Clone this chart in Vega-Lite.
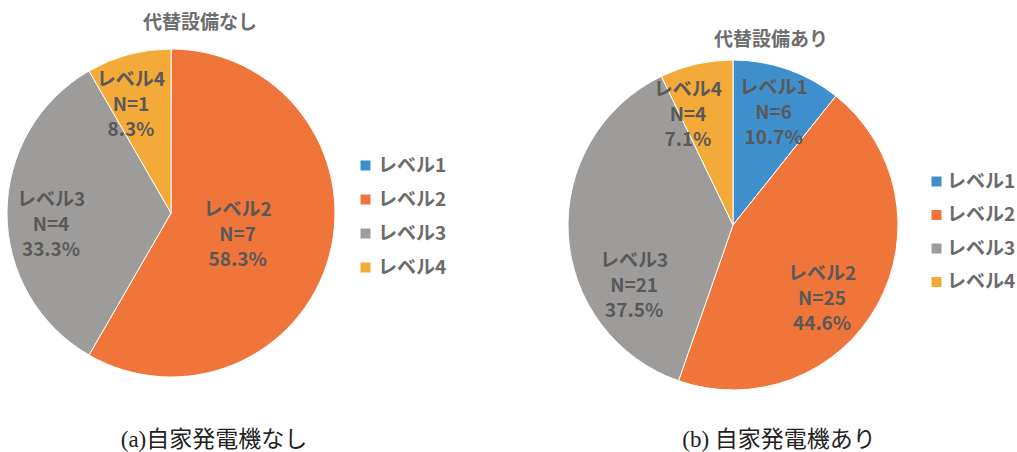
{
  "$schema": "https://vega.github.io/schema/vega-lite/v6.json",
  "width": 1017,
  "height": 452,
  "autosize": "none",
  "padding": 0,
  "background": "white",
  "config": {"view": {"stroke": null}},
  "datasets": {
    "without": [
      {"panel": "a", "level": "レベル1", "n": 0, "pct": "0.0%"},
      {"panel": "a", "level": "レベル2", "n": 7, "pct": "58.3%"},
      {"panel": "a", "level": "レベル3", "n": 4, "pct": "33.3%"},
      {"panel": "a", "level": "レベル4", "n": 1, "pct": "8.3%"}
    ],
    "with": [
      {"panel": "b", "level": "レベル1", "n": 6, "pct": "10.7%"},
      {"panel": "b", "level": "レベル2", "n": 25, "pct": "44.6%"},
      {"panel": "b", "level": "レベル3", "n": 21, "pct": "37.5%"},
      {"panel": "b", "level": "レベル4", "n": 4, "pct": "7.1%"}
    ],
    "headings": [
      {"panel": "a", "title": "代替設備なし", "caption": "(a)自家発電機なし"},
      {"panel": "b", "title": "代替設備あり", "caption": "(b) 自家発電機あり"}
    ]
  },
  "layer": [
    {
      "data": {"name": "without"},
      "encoding": {
        "x": {"field": "panel", "type": "nominal", "axis": null,
              "scale": {"type": "point", "padding": 0, "domain": ["a", "b"], "range": [171, 733]}},
        "y": {"field": "panel", "type": "nominal", "axis": null,
              "scale": {"type": "point", "padding": 0, "domain": ["a", "b"], "range": [213, 225]}}
      },
      "layer": [
        {
          "mark": {"type": "arc", "outerRadius": 164, "stroke": "white", "strokeWidth": 1},
          "encoding": {
            "theta": {"field": "n", "type": "quantitative", "stack": true},
            "order": {"field": "level", "sort": "ascending"},
            "color": {
              "field": "level", "type": "nominal",
              "scale": {"domain": ["レベル1", "レベル2", "レベル3", "レベル4"],
                        "range": ["#3f8fcd", "#f0753a", "#9e9c9a", "#f4aa38"]},
              "legend": {"orient": "none", "legendX": 356, "legendY": 156, "title": null,
                         "symbolType": "square", "symbolSize": 100, "symbolStrokeWidth": 0,
                         "labelFont": "Noto Sans CJK JP", "labelFontWeight": "bold",
                         "labelFontSize": 19, "labelColor": "#6b6b6b", "labelOffset": 3,
                         "rowPadding": 14, "padding": 0}
            }
          }
        },
        {
          "transform": [
            {"calculate": "datum.level + '\\nN=' + datum.n + '\\n' + datum.pct", "as": "label"}
          ],
          "mark": {"type": "text", "font": "Noto Sans CJK JP", "fontWeight": "bold", "fontSize": 19,
                   "lineBreak": "\n", "lineHeight": 25, "align": "center", "baseline": "middle",
                   "color": "#595959",
                   "radius": {"expr": "datum.level === 'レベル2' ? 69 : datum.level === 'レベル3' ? 120 : 116"},
                   "dx": {"expr": "datum.level === 'レベル4' ? -10 : 0"},
                   "dy": {"expr": "datum.level === 'レベル3' ? -13 : -21"}},
          "encoding": {
            "theta": {"field": "n", "type": "quantitative", "stack": true},
            "order": {"field": "level", "sort": "ascending"},
            "text": {"condition": {"test": "datum.n > 0", "field": "label"}, "value": ""}
          }
        },
        {
          "data": {"name": "headings"},
          "transform": [{"filter": "datum.panel === 'a'"}],
          "mark": {"type": "text", "font": "Noto Sans CJK JP", "fontWeight": "bold", "fontSize": 19,
                   "color": "#6d6d6d", "align": "center", "baseline": "middle", "dx": 29, "dy": -190},
          "encoding": {"text": {"field": "title"}}
        },
        {
          "data": {"name": "headings"},
          "transform": [{"filter": "datum.panel === 'a'"}],
          "mark": {"type": "text", "font": "Liberation Serif, Noto Sans CJK JP", "fontSize": 23,
                   "color": "#222222", "align": "center", "baseline": "middle", "dx": 43, "dy": 227},
          "encoding": {"text": {"field": "caption"}}
        }
      ]
    },
    {
      "data": {"name": "with"},
      "encoding": {
        "x": {"field": "panel", "type": "nominal", "axis": null,
              "scale": {"type": "point", "padding": 0, "domain": ["a", "b"], "range": [171, 733]}},
        "y": {"field": "panel", "type": "nominal", "axis": null,
              "scale": {"type": "point", "padding": 0, "domain": ["a", "b"], "range": [213, 225]}}
      },
      "layer": [
        {
          "mark": {"type": "arc", "outerRadius": 165, "stroke": "white", "strokeWidth": 1},
          "encoding": {
            "theta": {"field": "n", "type": "quantitative", "stack": true},
            "order": {"field": "level", "sort": "ascending"},
            "color": {
              "field": "level", "type": "nominal",
              "scale": {"domain": ["レベル1", "レベル2", "レベル3", "レベル4"],
                        "range": ["#3f8fcd", "#f0753a", "#9e9c9a", "#f4aa38"]},
              "legend": {"orient": "none", "legendX": 927, "legendY": 172, "title": null,
                         "symbolType": "square", "symbolSize": 100, "symbolStrokeWidth": 0,
                         "labelFont": "Noto Sans CJK JP", "labelFontWeight": "bold",
                         "labelFontSize": 19, "labelColor": "#6b6b6b", "labelOffset": 1,
                         "rowPadding": 13.5, "padding": 0}
            }
          }
        },
        {
          "transform": [
            {"calculate": "datum.level + '\\nN=' + datum.n + '\\n' + datum.pct", "as": "label"}
          ],
          "mark": {"type": "text", "font": "Noto Sans CJK JP", "fontWeight": "bold", "fontSize": 19,
                   "lineBreak": "\n", "lineHeight": 25, "align": "center", "baseline": "middle",
                   "color": "#595959",
                   "radius": {"expr": "datum.level === 'レベル1' ? 123 : datum.level === 'レベル2' ? 112 : datum.level === 'レベル3' ? 99 : 117"},
                   "dx": {"expr": "datum.level === 'レベル2' ? -9 : datum.level === 'レベル4' ? -19 : 0"},
                   "dy": {"expr": "datum.level === 'レベル2' ? -5 : datum.level === 'レベル3' ? 30 : -21"}},
          "encoding": {
            "theta": {"field": "n", "type": "quantitative", "stack": true},
            "order": {"field": "level", "sort": "ascending"},
            "text": {"field": "label"}
          }
        },
        {
          "data": {"name": "headings"},
          "transform": [{"filter": "datum.panel === 'b'"}],
          "mark": {"type": "text", "font": "Noto Sans CJK JP", "fontWeight": "bold", "fontSize": 19,
                   "color": "#6d6d6d", "align": "center", "baseline": "middle", "dx": 38, "dy": -185},
          "encoding": {"text": {"field": "title"}}
        },
        {
          "data": {"name": "headings"},
          "transform": [{"filter": "datum.panel === 'b'"}],
          "mark": {"type": "text", "font": "Liberation Serif, Noto Sans CJK JP", "fontSize": 23,
                   "color": "#222222", "align": "center", "baseline": "middle", "dx": 46, "dy": 215},
          "encoding": {"text": {"field": "caption"}}
        }
      ]
    }
  ],
  "resolve": {
    "scale": {"theta": "independent", "color": "independent"},
    "legend": {"color": "independent"}
  }
}
